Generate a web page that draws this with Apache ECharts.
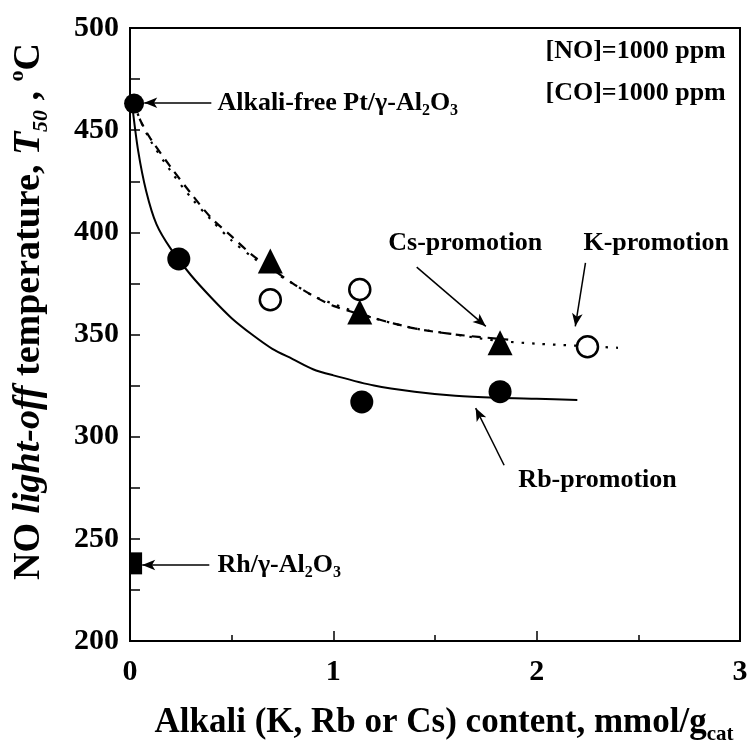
<!DOCTYPE html>
<html>
<head>
<meta charset="utf-8">
<script src="https://cdn.jsdelivr.net/npm/echarts@6/dist/echarts.min.js"></script>
<style>
  html, body { margin: 0; padding: 0; background: #fff; }
  #chart { width: 752px; height: 748px; }
</style>
</head>
<body>
<div id="chart"></div>
<script>
// NO light-off temperature (T50) versus alkali loading on Pt/γ-Al2O3

// measured points [alkali content mmol/g, T50 °C]
const alkaliFree = [[0.02, 463]];
const rhRef = [[0.03, 238]];
const rbPoints = [[0.24, 387], [1.14, 317], [1.82, 322]];
const csPoints = [[0.69, 386], [1.13, 361], [1.82, 346]];
const kPoints = [[0.69, 367], [1.13, 372], [2.25, 344]];

// trend curves traced through each promoter's data
const rbCurve = [[0.01, 463], [0.04, 440], [0.08, 420], [0.13, 404], [0.2, 392], [0.3, 379],
  [0.4, 368], [0.5, 358], [0.6, 350], [0.7, 343], [0.8, 338], [0.9, 333], [1.0, 330],
  [1.2, 325], [1.4, 322], [1.6, 320], [1.8, 319], [2.0, 318.5], [2.2, 318]];
const csCurve = [[0.02, 463], [0.05, 455], [0.1, 446], [0.2, 432], [0.3, 419], [0.4, 407],
  [0.5, 398], [0.6, 389], [0.7, 382], [0.8, 375], [0.9, 369], [1.0, 364], [1.2, 358],
  [1.4, 353], [1.6, 350], [1.86, 347.5]];
const kCurve = [[0.02, 463], [0.05, 455], [0.1, 445], [0.2, 430], [0.3, 417], [0.4, 406],
  [0.5, 396], [0.6, 388], [0.7, 381], [0.8, 375], [0.9, 369], [1.0, 365], [1.2, 358],
  [1.4, 353], [1.6, 350], [1.8, 347], [2.0, 345.5], [2.2, 344.5], [2.4, 343.5]];

// axis ticks
const xTicks = [0, 1, 2, 3];
const yTicks = [200, 250, 300, 350, 400, 450, 500];

// annotation arrows [from, to] in data coordinates
const arrows = [
  [[0.40, 463.4], [0.07, 463.4]],
  [[0.39, 237.2], [0.06, 237.2]],
  [[1.41, 383], [1.75, 354]],
  [[2.24, 385], [2.19, 354]],
  [[1.84, 286], [1.70, 314]]
];

const SERIF = '"Liberation Serif", "DejaVu Serif", serif';

const chart = echarts.init(document.getElementById('chart'), null, { renderer: 'canvas' });

function serif(size, extra) {
  return Object.assign({ fontFamily: SERIF, fontWeight: 'bold', fontSize: size, color: '#000' }, extra || {});
}

const baseRich = serif(26, { lineHeight: 32, verticalAlign: 'middle' });
const sub = serif(16, { lineHeight: 16, verticalAlign: 'bottom' });

chart.setOption({
  animation: false,
  backgroundColor: '#fff',
  grid: {
    left: 130, right: 12, top: 28, bottom: 107, outerBoundsMode: 'none', containLabel: false,
    show: true, borderColor: '#000', borderWidth: 2, backgroundColor: 'transparent'
  },
  xAxis: {
    type: 'value', min: xTicks[0], max: xTicks[xTicks.length - 1], interval: 1,
    axisLine: { lineStyle: { color: '#000', width: 2 } },
    axisTick: { inside: true, length: 10, lineStyle: { color: '#000', width: 1.5 } },
    minorTick: { show: true, splitNumber: 2, length: 6, lineStyle: { color: '#000', width: 1.5 } },
    splitLine: { show: false },
    axisLabel: serif(30, { margin: 16 }),
    name: '{t|Alkali (K, Rb or Cs) content, mmol/g}{s|cat}',
    nameLocation: 'middle', nameGap: 60,
    nameTextStyle: {
      padding: [0, 0, 0, 18],
      rich: {
        t: serif(35, { lineHeight: 44, verticalAlign: 'middle' }),
        s: serif(21, { lineHeight: 21, verticalAlign: 'bottom' })
      }
    }
  },
  yAxis: {
    type: 'value', min: yTicks[0], max: yTicks[yTicks.length - 1], interval: 50,
    axisLine: { lineStyle: { color: '#000', width: 2 } },
    axisTick: { inside: true, length: 10, lineStyle: { color: '#000', width: 1.5 } },
    minorTick: { show: true, splitNumber: 2, length: 10, lineStyle: { color: '#000', width: 1.5 } },
    splitLine: { show: false },
    axisLabel: serif(30, { margin: 11 }),
    name: '{b|NO }{i|light-off}{b| temperature, }{i|T}{is|50}{b| , }{sup|o}{b|C}',
    nameLocation: 'middle', nameRotate: 90, nameGap: 78,
    nameTextStyle: {
      padding: [0, 0, 0, 46],
      rich: {
        b: serif(38, { lineHeight: 46, verticalAlign: 'middle' }),
        i: serif(38, { fontStyle: 'italic', lineHeight: 46, verticalAlign: 'middle' }),
        is: serif(22, { fontStyle: 'italic', lineHeight: 22, verticalAlign: 'bottom' }),
        sup: serif(22, { lineHeight: 22, verticalAlign: 'top' })
      }
    }
  },
  series: [
    { name: 'Rb curve', type: 'line', data: rbCurve, smooth: 0.3, showSymbol: false, silent: true,
      lineStyle: { color: '#000', width: 2 } },
    { name: 'Cs curve', type: 'line', data: csCurve, smooth: 0.3, showSymbol: false, silent: true,
      lineStyle: { color: '#000', width: 2.2, type: [9, 7] } },
    { name: 'K curve', type: 'line', data: kCurve, smooth: 0.3, showSymbol: false, silent: true,
      lineStyle: { color: '#000', width: 2.2, type: [2.5, 8] } },
    { name: 'Rb', type: 'scatter', data: rbPoints, symbol: 'circle', symbolSize: 23,
      itemStyle: { color: '#000', opacity: 1 }, z: 5 },
    { name: 'Cs', type: 'scatter', data: csPoints, symbol: 'triangle', symbolSize: 25,
      itemStyle: { color: '#000', opacity: 1 }, z: 5 },
    { name: 'K', type: 'scatter', data: kPoints, symbol: 'circle', symbolSize: 21,
      itemStyle: { color: '#fff', borderColor: '#000', borderWidth: 2.5, opacity: 1 }, z: 6 },
    { name: 'Alkali-free', type: 'scatter', data: alkaliFree, symbol: 'circle', symbolSize: 20,
      itemStyle: { color: '#000', opacity: 1 }, z: 5 },
    { name: 'Rh', type: 'scatter', data: rhRef, symbol: 'rect', symbolSize: [12, 22],
      itemStyle: { color: '#000', opacity: 1 }, z: 5 },
    { name: 'arrows', type: 'line', data: [], silent: true,
      markLine: {
        silent: true, animation: false,
        symbol: ['none', 'arrow'], symbolSize: [8, 13],
        label: { show: false },
        lineStyle: { color: '#000', width: 1.5, type: 'solid' },
        data: arrows.map(a => [{ coord: a[0] }, { coord: a[1] }])
      } }
  ]
});

// text annotations anchored in data coordinates
const notes = [
  { at: [0.43, 463.4], align: 'left', text: '{b|Alkali-free Pt/γ-Al}{s|2}{b|O}{s|3}' },
  { at: [0.43, 237.2], align: 'left', text: '{b|Rh/γ-Al}{s|2}{b|O}{s|3}' },
  { at: [2.93, 488.8], align: 'right', text: '{b|[NO]=1000 ppm}' },
  { at: [2.93, 468.2], align: 'right', text: '{b|[CO]=1000 ppm}' },
  { at: [1.27, 394.5], align: 'left', text: '{b|Cs-promotion}' },
  { at: [2.23, 394.5], align: 'left', text: '{b|K-promotion}' },
  { at: [1.91, 278.5], align: 'left', text: '{b|Rb-promotion}' }
];

chart.setOption({
  graphic: notes.map(n => {
    const p = chart.convertToPixel({ gridIndex: 0 }, n.at);
    return {
      type: 'text', x: p[0], y: p[1], z: 10, silent: true,
      style: {
        text: n.text, align: n.align, verticalAlign: 'middle',
        rich: { b: baseRich, s: sub }
      }
    };
  })
});
</script>
</body>
</html>
